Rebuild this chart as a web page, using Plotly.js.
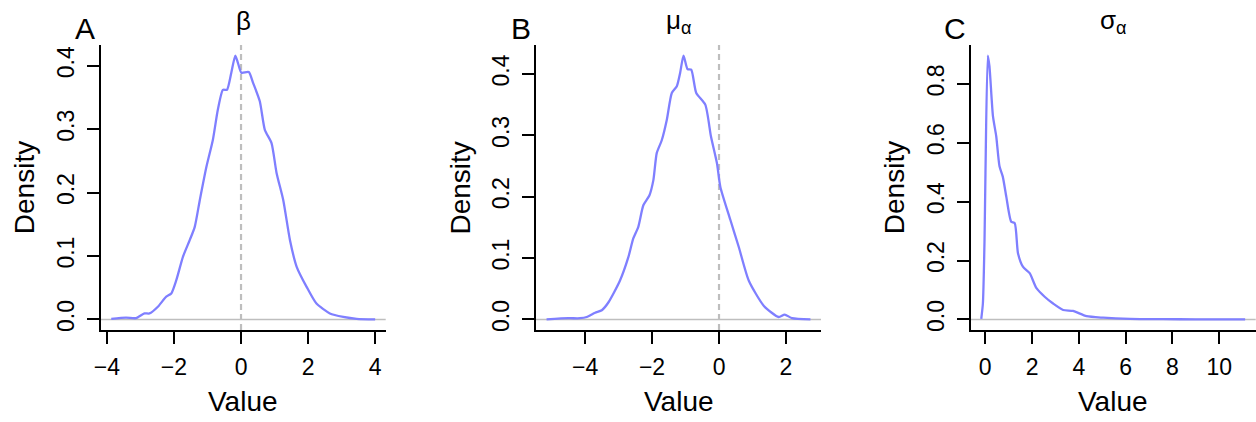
<!DOCTYPE html>
<html><head><meta charset="utf-8">
<script src="https://cdn.plot.ly/plotly-3.0.1.min.js"></script>
<style>html,body{margin:0;padding:0;background:#fff}#chart{width:1256px;height:422px}</style>
</head><body><div id="chart"></div>
<script>
const panelLetters = ['A', 'B', 'C'];
const panelTitles = ['β', 'μ<sub>α</sub>', 'σ<sub>α</sub>'];
const xAxisLabel = 'Value';
const yAxisLabel = 'Density';

const betaValue = [-3.87, -3.43, -3.13, -2.88, -2.73, -2.48, -2.23, -2.08, -1.93, -1.73, -1.53, -1.38, -1.23, -1.03, -0.84, -0.69, -0.54, -0.42, -0.29, -0.17, -0.09, 0.01, 0.23, 0.36, 0.56, 0.71, 0.91, 1.06, 1.26, 1.46, 1.66, 1.96, 2.25, 2.65, 3.05, 3.45, 4.0];
const betaDensity = [0.001, 0.003, 0.002, 0.0095, 0.0095, 0.020, 0.036, 0.041, 0.062, 0.099, 0.125, 0.146, 0.188, 0.241, 0.283, 0.331, 0.362, 0.362, 0.389, 0.416, 0.404, 0.389, 0.390, 0.373, 0.344, 0.299, 0.278, 0.231, 0.188, 0.125, 0.083, 0.051, 0.025, 0.0095, 0.004, 0.001, 0.0];

const muValue = [-5.15, -4.50, -4.15, -3.95, -3.70, -3.50, -3.30, -2.96, -2.71, -2.56, -2.41, -2.26, -2.08, -1.96, -1.86, -1.71, -1.56, -1.41, -1.26, -1.16, -1.06, -0.94, -0.83, -0.68, -0.41, -0.24, -0.06, 0.04, 0.34, 0.59, 0.89, 1.34, 1.78, 1.96, 2.18, 2.73];
const muDensity = [0.0, 0.002, 0.002, 0.004, 0.011, 0.015, 0.028, 0.063, 0.101, 0.132, 0.151, 0.186, 0.202, 0.227, 0.271, 0.292, 0.325, 0.369, 0.380, 0.402, 0.430, 0.408, 0.407, 0.369, 0.350, 0.298, 0.254, 0.216, 0.162, 0.118, 0.063, 0.022, 0.004, 0.008, 0.002, 0.0];

const sigmaValue = [-0.17, -0.10, -0.03, 0.01, 0.11, 0.18, 0.33, 0.47, 0.61, 0.75, 0.90, 1.11, 1.26, 1.40, 1.61, 1.90, 2.19, 2.54, 2.90, 3.33, 3.75, 4.33, 5.04, 6.19, 7.60, 9.00, 11.11];
const sigmaDensity = [0.002, 0.054, 0.27, 0.497, 0.896, 0.86, 0.69, 0.622, 0.52, 0.485, 0.417, 0.332, 0.327, 0.225, 0.179, 0.157, 0.106, 0.077, 0.054, 0.032, 0.029, 0.011, 0.006, 0.002, 0.001, 0.0005, 0.0];

const xTicks = [[-4, -2, 0, 2, 4], [-4, -2, 0, 2], [0, 2, 4, 6, 8, 10]];
const yTicks = [[0, 0.1, 0.2, 0.3, 0.4], [0, 0.1, 0.2, 0.3, 0.4], [0, 0.2, 0.4, 0.6, 0.8]];
const refLine = [0, 0, null];

const series = [[betaValue, betaDensity], [muValue, muDensity], [sigmaValue, sigmaDensity]];

const W = 1256, H = 422;
const plotLeft = [100.7, 536, 970.7];
const plotWidth = 285;
const plotTop = 45, plotBottom = 330;
const FONT = '"Liberation Sans", Arial, sans-serif';
const curveColor = '#7f7fff';

function extRange(arr) {
  const mn = Math.min(...arr), mx = Math.max(...arr);
  const d = (mx - mn) * 0.04;
  return [mn - d, mx + d];
}

const data = [];
const layout = {
  width: W, height: H,
  margin: {l: 0, r: 0, t: 0, b: 0},
  paper_bgcolor: '#fff', plot_bgcolor: '#fff',
  showlegend: false,
  font: {family: FONT, color: '#000'},
  shapes: [], annotations: []
};

series.forEach((s, i) => {
  const ax = i === 0 ? '' : String(i + 1);
  data.push({
    type: 'scatter', mode: 'lines',
    x: s[0], y: s[1],
    xaxis: 'x' + ax, yaxis: 'y' + ax,
    line: {color: curveColor, width: 2.3, shape: 'spline', smoothing: 0.6},
    hoverinfo: 'skip'
  });
  const x0 = plotLeft[i] / W, x1 = (plotLeft[i] + plotWidth) / W;
  const yd = [(H - plotBottom) / H, (H - plotTop) / H];
  const common = {
    showline: true, linecolor: '#000', linewidth: 2,
    ticks: 'outside', ticklen: 12, tickwidth: 2, tickcolor: '#000',
    showgrid: false, zeroline: false,
    tickfont: {family: FONT, size: 23, color: '#000'},
    fixedrange: true
  };
  layout['xaxis' + ax] = Object.assign({}, common, {
    domain: [x0, x1], anchor: 'y' + ax,
    range: extRange(s[0]),
    tickmode: 'array', tickvals: xTicks[i], ticktext: xTicks[i].map(v => v < 0 ? '\u2212' + Math.abs(v) : String(v)),
    ticklabelstandoff: 3
  });
  const ymax = Math.max(...s[1]);
  layout['yaxis' + ax] = Object.assign({}, common, {
    domain: yd, anchor: 'x' + ax,
    range: [-0.04 * ymax, 1.04 * ymax],
    tickmode: 'array', tickvals: yTicks[i], ticktext: yTicks[i].map(v => v.toFixed(1)),
    tickangle: -90, ticklabelstandoff: 4
  });
  layout.shapes.push({
    type: 'line', layer: 'below', xref: 'x' + ax + ' domain', yref: 'y' + ax,
    x0: 0, x1: 1, y0: 0, y1: 0,
    line: {color: '#bebebe', width: 1.5}
  });
  if (refLine[i] !== null) {
    layout.shapes.push({
      type: 'line', layer: 'below', xref: 'x' + ax, yref: 'y' + ax + ' domain',
      x0: refLine[i], x1: refLine[i], y0: 0, y1: 1,
      line: {color: '#bebebe', width: 2.2, dash: '6px,4px'}
    });
  }
  const cx = (plotLeft[i] + plotWidth / 2) / W;
  layout.annotations.push(
    {text: panelLetters[i], xref: 'paper', yref: 'paper', x: (plotLeft[i] - 15.5) / W, y: 1 - 28 / H,
     xanchor: 'center', yanchor: 'middle', showarrow: false, font: {family: FONT, size: 30, color: '#000'}},
    {text: panelTitles[i], xref: 'paper', yref: 'paper', x: cx, y: 1 - 21 / H,
     xanchor: 'center', yanchor: 'middle', showarrow: false, font: {family: FONT, size: 26, color: '#000'}},
    {text: yAxisLabel, xref: 'paper', yref: 'paper', x: (plotLeft[i] - 76) / W, y: 1 - 187.5 / H,
     xanchor: 'center', yanchor: 'middle', textangle: -90, showarrow: false, font: {family: FONT, size: 28, color: '#000'}},
    {text: xAxisLabel, xref: 'paper', yref: 'paper', x: cx, y: 1 - 401.7 / H,
     xanchor: 'center', yanchor: 'middle', showarrow: false, font: {family: FONT, size: 28, color: '#000'}}
  );
});

Plotly.newPlot('chart', data, layout, {displayModeBar: false, staticPlot: true});
</script>
</body></html>
